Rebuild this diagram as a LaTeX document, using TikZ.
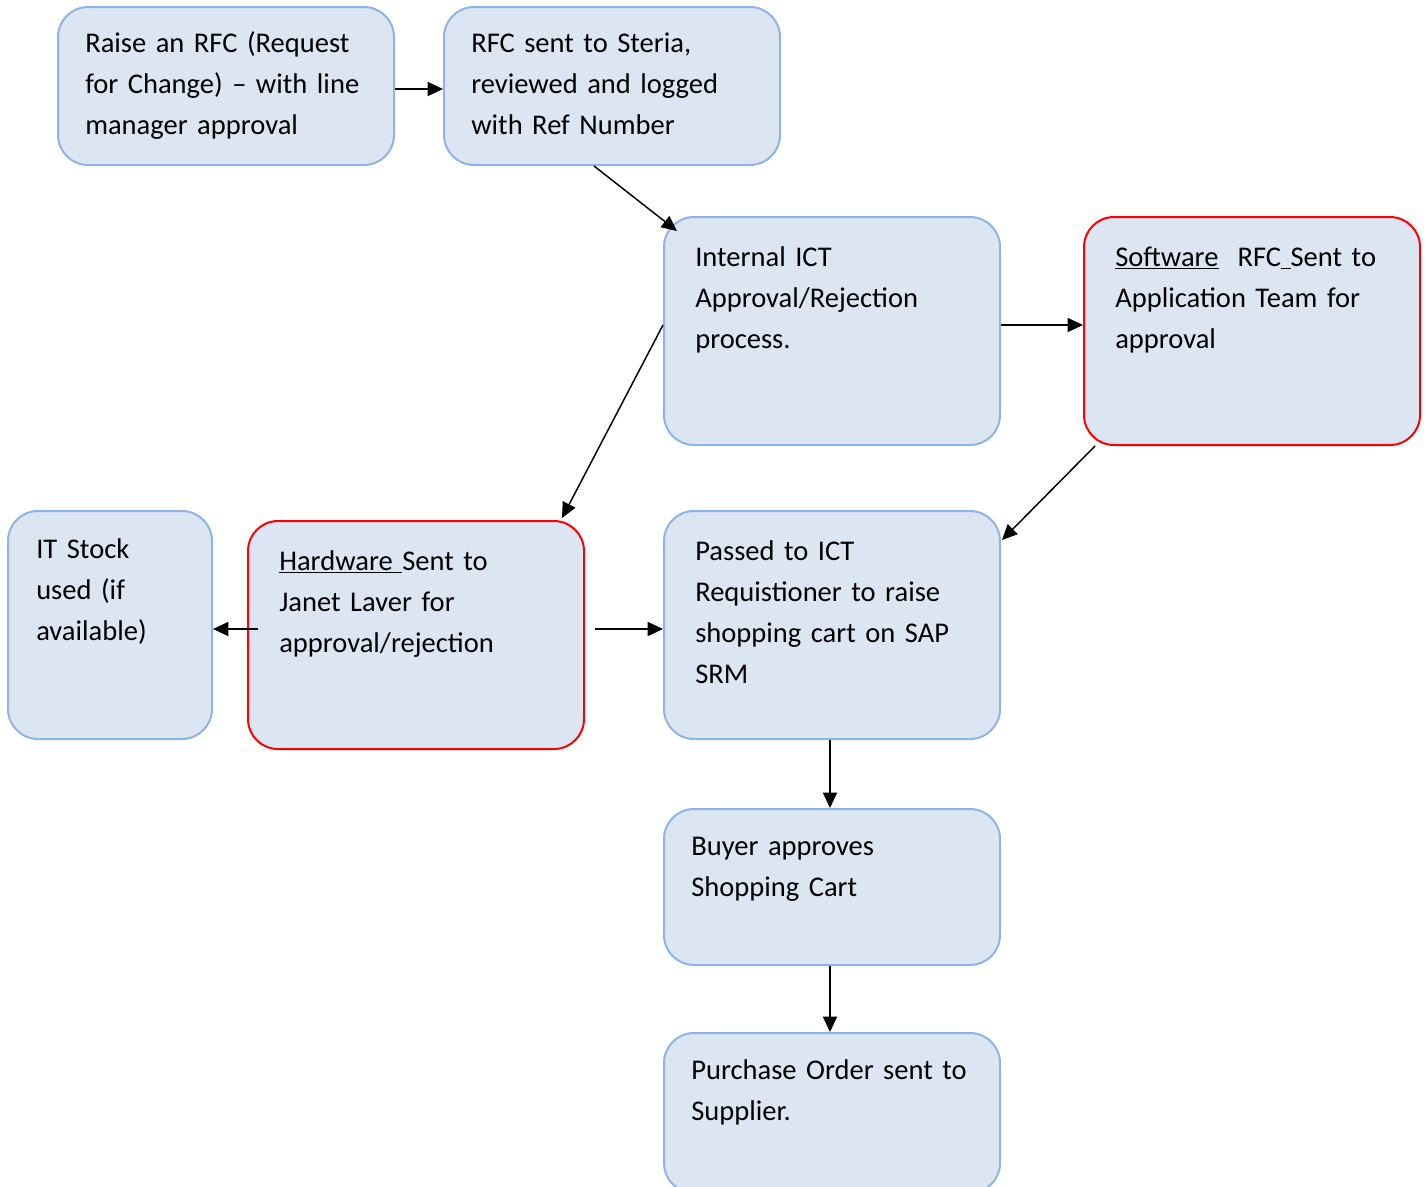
\documentclass[tikz,border=0pt]{standalone}
\usepackage{fontspec}
\setmainfont{Carlito}
\usetikzlibrary{calc,arrows.meta}
\definecolor{boxfill}{HTML}{DCE6F2}
\definecolor{boxline}{HTML}{8EB4E3}
\definecolor{alertline}{HTML}{FF0000}
\begin{document}
\begin{tikzpicture}[x=0.75pt,y=-0.75pt,
  box/.style 2 args={draw=boxline, fill=boxfill, line width=1.5pt,
    rounded corners=22.5pt, inner sep=0pt,
    minimum width=#1*0.75pt, minimum height=#2*0.75pt},
  alert/.style={draw=alertline},
  txt/.style={anchor=base west, inner sep=0pt, text width=320pt, align=left,
    font=\fontsize{21.4}{30.75}\selectfont},
  conn/.style={draw=black, line width=1.1pt,
    -{Triangle[length=11.5pt,width=10.5pt]}}]
  \clip (0,0) rectangle (1427,1186);

  % process boxes
  \node[box={336}{158}] (b1) at (226,86) {};
  \node[box={336}{158}] (b2) at (612,86) {};
  \node[box={336}{228}] (b3) at (832,331) {};
  \node[box={336}{228}, alert] (b4) at (1252,331) {};
  \node[box={204}{228}] (b5) at (110,625) {};
  \node[box={336}{228}, alert] (b6) at (416,635) {};
  \node[box={336}{228}] (b7) at (832,625) {};
  \node[box={336}{156}] (b8) at (832,887) {};
  \node[box={336}{160}] (b9) at (832,1113) {};

  % box texts
  \node[txt] (t1) at (85,52) {Raise an RFC (Request\\for Change) – with line\\manager approval};
  \node[txt] (t2) at (471,52) {RFC sent to Steria,\\reviewed and logged\\with Ref Number};
  \node[txt] (t3) at (695,266) {Internal ICT\\Approval/Rejection\\process.};
  \node[txt] (t4) at (1115,266) {\underline{Software}\ \ RFC\underline{\ }Sent to\\Application Team for\\approval};
  \node[txt] (t5) at (36,558) {IT Stock\\used (if\\available)};
  \node[txt] (t6) at (279,570) {\underline{Hardware\ }Sent to\\Janet Laver for\\approval/rejection};
  \node[txt] (t7) at (695,560) {Passed to ICT\\Requistioner to raise\\shopping cart on SAP\\SRM};
  \node[txt] (t8) at (691,855) {Buyer approves\\Shopping Cart};
  \node[txt] (t9) at (691,1079) {Purchase Order sent to\\Supplier.};

  % connectors
  \draw[conn] ($(b1.east)+(0,3)$) -- ($(b2.west)+(0,3)$);
  \draw[conn] ($(b2.south)+(-18,0)$) -- ($(b3.north west)+(14,15)$);
  \draw[conn] ($(b3.east)+(0,-6)$) -- ($(b4.west)+(0,-6)$);
  \draw[conn] ($(b3.west)+(0,-6)$) -- ($(b6.north east)+(-23,-2)$);
  \draw[conn] ($(b4.south west)+(12,0)$) -- ($(b7.north east)+(1,30)$);
  \draw[conn] ($(b6.west)+(11,-6)$) -- ($(b5.east)+(0,4)$);
  \draw[conn] ($(b6.east)+(10,-6)$) -- ($(b7.west)+(0,4)$);
  \draw[conn] ($(b7.south)+(-2,0)$) -- ($(b8.north)+(-2,0)$);
  \draw[conn] ($(b8.south)+(-2,0)$) -- ($(b9.north)+(-2,0)$);
\end{tikzpicture}
\end{document}
